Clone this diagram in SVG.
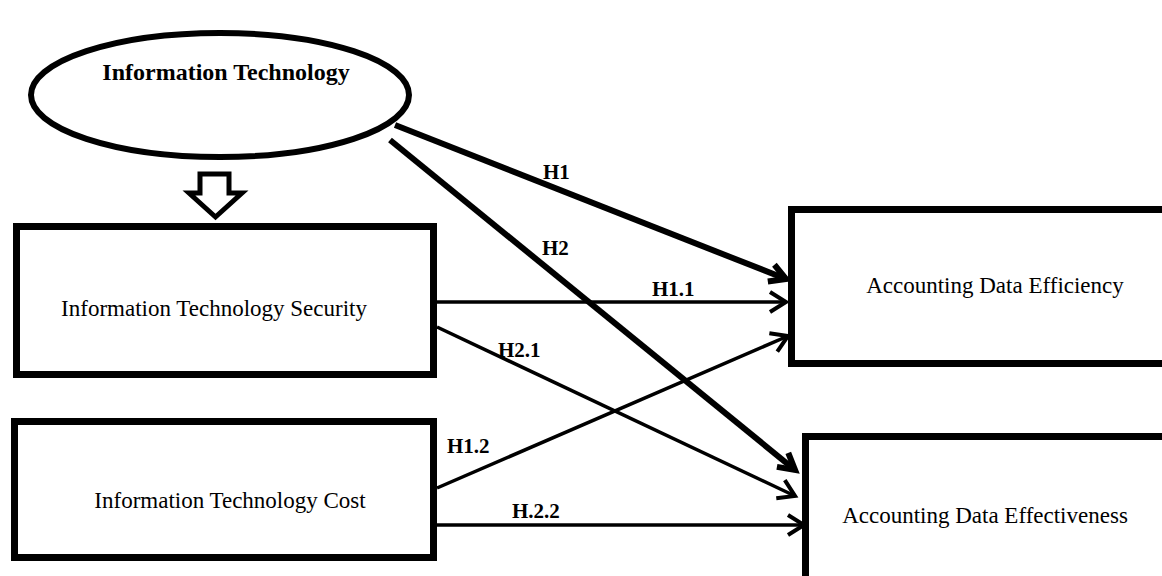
<svg xmlns="http://www.w3.org/2000/svg" width="1162" height="576" viewBox="0 0 1162 576">
<style>
.box{fill:#fff;stroke:#000;stroke-width:7}
.lbl{font-family:"Liberation Serif","Times New Roman",serif;font-size:23px;fill:#000}
.hl{font-family:"Liberation Serif","Times New Roman",serif;font-size:21px;font-weight:bold;fill:#000}
.thick{stroke:#000;stroke-width:6;fill:none}
.thin{stroke:#000;stroke-width:3.5;fill:none}
</style>
<defs>
<marker id="ahThick" markerUnits="userSpaceOnUse" markerWidth="30" markerHeight="30" viewBox="-20 -15 25 30" refX="0" refY="0" orient="auto">
<path d="M -16 -9 L 0 0 L -16 9" fill="none" stroke="#000" stroke-width="6"/>
</marker>
<marker id="ahThin" markerUnits="userSpaceOnUse" markerWidth="30" markerHeight="30" viewBox="-20 -15 25 30" refX="0" refY="0" orient="auto">
<path d="M -16 -10 L 0 0 L -16 10" fill="none" stroke="#000" stroke-width="4"/>
</marker>
</defs>
<rect width="1162" height="576" fill="#fff"/>

<g id="connectors">
<line class="thick" x1="395" y1="125" x2="786" y2="279" marker-end="url(#ahThick)"/>
<line class="thick" x1="390" y1="140" x2="795" y2="470" marker-end="url(#ahThick)"/>
<line class="thin" x1="437" y1="302" x2="786" y2="302" marker-end="url(#ahThin)"/>
<line class="thin" x1="437" y1="327" x2="795" y2="496" marker-end="url(#ahThin)"/>
<line class="thin" x1="437" y1="488" x2="788" y2="336" marker-end="url(#ahThin)"/>
<line class="thin" x1="437" y1="525" x2="804" y2="525" marker-end="url(#ahThin)"/>
<path id="down-arrow" d="M 200 174 L 229 174 L 229 193 L 242 193 L 215.5 217 L 189 193 L 200 193 Z" fill="#fff" stroke="#000" stroke-width="5" stroke-linejoin="miter"/>
<text class="hl" x="543" y="179">H1</text>
<text class="hl" x="542" y="255">H2</text>
<text class="hl" x="652" y="296">H1.1</text>
<text class="hl" x="498" y="357">H2.1</text>
<text class="hl" x="447" y="453">H1.2</text>
<text class="hl" x="512" y="518">H.2.2</text>
</g>

<g id="node-it">
<ellipse cx="220" cy="95" rx="189" ry="62" fill="#fff" stroke="#000" stroke-width="6"/>
<text x="226" y="80" text-anchor="middle" font-family="'Liberation Serif','Times New Roman',serif" font-size="24" font-weight="bold" fill="#000">Information Technology</text>
</g>

<g id="node-security">
<rect class="box" x="16.5" y="226.5" width="417" height="148"/>
<text class="lbl" x="214" y="316" text-anchor="middle">Information Technology Security</text>
</g>

<g id="node-cost">
<rect class="box" x="14.5" y="421.5" width="419" height="136"/>
<text class="lbl" x="230" y="508" text-anchor="middle">Information Technology Cost</text>
</g>

<g id="node-efficiency">
<rect class="box" x="791.5" y="209.5" width="380" height="154"/>
<text class="lbl" x="995" y="293" text-anchor="middle">Accounting Data Efficiency</text>
</g>

<g id="node-effectiveness">
<rect class="box" x="805.5" y="436.5" width="370" height="160"/>
<text class="lbl" x="985" y="523" text-anchor="middle">Accounting Data Effectiveness</text>
</g>
</svg>
